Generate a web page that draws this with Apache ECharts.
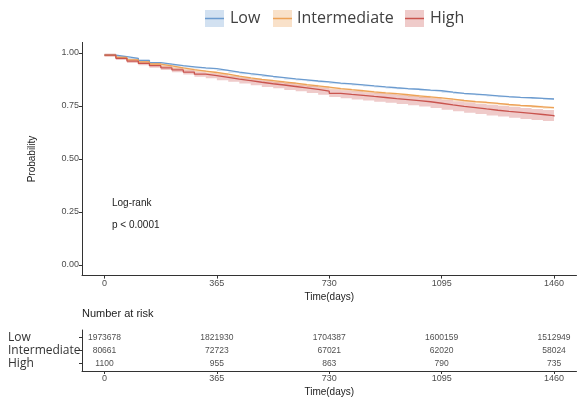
<!DOCTYPE html>
<html>
<head>
<meta charset="utf-8">
<script src="https://cdn.jsdelivr.net/npm/echarts@6/dist/echarts.min.js"></script>
<style>
html,body{margin:0;padding:0;background:#fff;}
#main{width:586px;height:398px;}
</style>
</head>
<body>
<div id="main"></div>
<script>
// survival curves
var times = [0,37,73,110,146,183,219,256,292,329,365,402,438,475,511,548,584,621,657,694,730,767,803,840,876,913,949,986,1022,1059,1095,1132,1168,1205,1241,1278,1314,1351,1387,1424,1460];

var lowSurv = [0.990,0.983,0.975,0.965,0.955,0.948,0.940,0.935,0.930,0.926,0.918,0.910,0.903,0.897,0.890,0.884,0.878,0.873,0.868,0.864,0.858,0.854,0.850,0.845,0.840,0.836,0.832,0.829,0.825,0.822,0.815,0.810,0.806,0.802,0.798,0.794,0.791,0.789,0.786,0.783,0.780];
var lowLo   = [0.987,0.980,0.972,0.962,0.952,0.945,0.937,0.932,0.927,0.923,0.915,0.907,0.900,0.894,0.887,0.881,0.875,0.870,0.865,0.861,0.855,0.851,0.847,0.842,0.837,0.833,0.829,0.826,0.822,0.819,0.812,0.807,0.803,0.799,0.795,0.791,0.788,0.786,0.783,0.780,0.777];
var lowHi   = [0.993,0.986,0.978,0.968,0.958,0.951,0.943,0.938,0.933,0.929,0.921,0.913,0.906,0.900,0.893,0.887,0.881,0.876,0.871,0.867,0.861,0.857,0.853,0.848,0.843,0.839,0.835,0.832,0.828,0.825,0.818,0.813,0.809,0.805,0.801,0.797,0.794,0.792,0.789,0.786,0.783];

var intSurv = [0.990,0.979,0.968,0.958,0.948,0.939,0.930,0.922,0.915,0.908,0.900,0.891,0.883,0.876,0.870,0.864,0.858,0.851,0.845,0.839,0.832,0.827,0.822,0.817,0.812,0.808,0.803,0.798,0.793,0.788,0.782,0.776,0.771,0.767,0.762,0.757,0.753,0.750,0.746,0.742,0.739];
var intLo   = [0.985,0.974,0.963,0.953,0.943,0.934,0.925,0.917,0.910,0.903,0.895,0.886,0.878,0.871,0.865,0.859,0.853,0.846,0.840,0.834,0.827,0.822,0.817,0.812,0.807,0.803,0.798,0.793,0.788,0.783,0.777,0.771,0.766,0.762,0.757,0.752,0.748,0.745,0.741,0.737,0.734];
var intHi   = [0.995,0.984,0.973,0.963,0.953,0.944,0.935,0.927,0.920,0.913,0.905,0.896,0.888,0.881,0.875,0.869,0.863,0.856,0.850,0.844,0.837,0.832,0.827,0.822,0.817,0.813,0.808,0.803,0.798,0.793,0.787,0.781,0.776,0.772,0.767,0.762,0.758,0.755,0.751,0.747,0.744];

var highSurv = [0.990,0.975,0.962,0.951,0.940,0.930,0.920,0.910,0.900,0.893,0.885,0.877,0.870,0.862,0.855,0.849,0.842,0.835,0.828,0.820,0.810,0.805,0.800,0.795,0.790,0.785,0.780,0.775,0.770,0.763,0.755,0.748,0.742,0.736,0.730,0.725,0.720,0.715,0.710,0.705,0.700];
var highLo   = [0.982,0.967,0.953,0.942,0.930,0.920,0.909,0.899,0.888,0.881,0.872,0.864,0.856,0.848,0.840,0.834,0.826,0.819,0.811,0.803,0.792,0.787,0.781,0.776,0.770,0.765,0.759,0.754,0.748,0.741,0.732,0.725,0.718,0.712,0.705,0.700,0.695,0.689,0.684,0.679,0.674];
var highHi   = [0.998,0.983,0.971,0.960,0.950,0.940,0.931,0.921,0.912,0.905,0.898,0.890,0.884,0.876,0.870,0.864,0.858,0.851,0.845,0.837,0.828,0.823,0.819,0.814,0.810,0.805,0.801,0.796,0.792,0.785,0.778,0.771,0.766,0.760,0.755,0.750,0.745,0.741,0.736,0.731,0.726];

// number at risk table
var groups = ['Low','Intermediate','High'];
var riskTimes = [0,365,730,1095,1460];
var riskLow = [1973678,1821930,1704387,1600159,1512949];
var riskInt = [80661,72723,67021,62020,58024];
var riskHigh = [1100,955,863,790,735];

var xTicks = [0,365,730,1095,1460];
var yTicks = [0,0.25,0.5,0.75,1];

var lineCol = ['#6b9bcf','#eda256','#c9544e'];
var bandCol = ['rgba(107,155,207,0.30)','rgba(237,162,86,0.32)','rgba(201,84,78,0.30)'];

function pairs(xs, ys){
	var arr=[];
	for(var i=0;i<xs.length;++i){ arr.push([xs[i], ys[i]]); }
	return arr;
}

function bandSeries(lo, hi, color, z){
	return {
		type:'custom',
		xAxisIndex:0, yAxisIndex:0,
		z:z,
		silent:true,
		data:[[0,0]],
		encode:{x:0, y:1},
		renderItem:function(params, api){
			var pts=[];
			for(var i=0;i<times.length;++i){
				pts.push(api.coord([times[i], hi[i]]));
				if(i<times.length-1) pts.push(api.coord([times[i+1], hi[i]]));
			}
			for(var j=times.length-1;j>=0;--j){
				if(j<times.length-1) pts.push(api.coord([times[j+1], lo[j]]));
				pts.push(api.coord([times[j], lo[j]]));
			}
			return {type:'polygon', shape:{points:pts}, style:{fill:color}};
		}
	};
}

function survLine(name, surv, color){
	return {
		name:name, type:'line', step:'end',
		xAxisIndex:0, yAxisIndex:0,
		data:pairs(times, surv),
		showSymbol:false, symbol:'none',
		lineStyle:{color:color, width:1.3},
		z:5, silent:true
	};
}

function riskData(row, vals){
	var arr=[];
	for(var i=0;i<riskTimes.length;++i){ arr.push([riskTimes[i], row, vals[i]]); }
	return arr;
}

var axisCol = '#333';
var labCol = '#4d4d4d';
var fontA = 'Liberation Sans, Arial, sans-serif';
var fontB = 'Open Sans, Noto Sans, sans-serif';

var legendItems = [];
var legendPos = [[205,'Low',230],[273,'Intermediate',297],[405,'High',430]];
for(var k=0;k<3;++k){
	legendItems.push({type:'rect', shape:{x:legendPos[k][0], y:10, width:19, height:17}, style:{fill:bandCol[k]}});
	legendItems.push({type:'line', shape:{x1:legendPos[k][0], y1:18.5, x2:legendPos[k][0]+19, y2:18.5}, style:{stroke:lineCol[k], lineWidth:1.5}});
	legendItems.push({type:'text', x:legendPos[k][2], y:18.5, style:{text:legendPos[k][1], fill:'#404040', font:'16px '+fontB, verticalAlign:'middle'}});
}

function xAxisFor(idx){
	return {
		type:'value', gridIndex:idx, min:-73, max:1533,
		name:'Time(days)', nameLocation:'middle', nameGap:16,
		nameTextStyle:{color:'#222', fontSize:10, fontFamily:fontA},
		axisLine:{show:true, onZero:false, lineStyle:{color:axisCol, width:1}},
		axisTick:{show:true, length:3, lineStyle:{color:axisCol}, customValues:xTicks},
		axisLabel:{color:labCol, fontSize:9, fontFamily:fontA, margin:3, customValues:xTicks,
			formatter:function(v){ return String(v); }},
		splitLine:{show:false}
	};
}

var myChart = echarts.init(document.getElementById('main'));
var option = {
	animation:false,
	backgroundColor:'#fff',
	grid:[
		{left:82, right:9.5, top:42.4, bottom:122.4},
		{left:82, right:9.5, top:330, bottom:24}
	],
	xAxis:[xAxisFor(0), xAxisFor(1)],
	yAxis:[
		{
			type:'value', gridIndex:0, min:-0.05, max:1.05,
			name:'Probability', nameLocation:'middle', nameGap:45,
			nameTextStyle:{color:'#222', fontSize:10, fontFamily:fontA},
			axisLine:{show:true, onZero:false, lineStyle:{color:axisCol, width:1}},
			axisTick:{show:true, length:3, lineStyle:{color:axisCol}, customValues:yTicks},
			axisLabel:{color:labCol, fontSize:9, fontFamily:fontA, margin:3, customValues:yTicks,
				formatter:function(v){ return v.toFixed(2); }},
			splitLine:{show:false}
		},
		{
			type:'value', gridIndex:1, min:0.4, max:3.6, inverse:true,
			axisLine:{show:true, onZero:false, lineStyle:{color:axisCol, width:1}},
			axisTick:{show:true, length:3, lineStyle:{color:axisCol}, customValues:[1,2,3]},
			axisLabel:{color:'#333', fontSize:12, fontFamily:fontB, margin:74, align:'left', customValues:[1,2,3],
				formatter:function(v){ return groups[Math.round(v)-1]; }},
			splitLine:{show:false}
		}
	],
	graphic:legendItems.concat([
		{type:'text', x:112, y:203, style:{text:'Log-rank', fill:'#222', font:'10px '+fontA, verticalAlign:'middle'}},
		{type:'text', x:112, y:225, style:{text:'p < 0.0001', fill:'#222', font:'10px '+fontA, verticalAlign:'middle'}},
		{type:'text', x:82, y:314, style:{text:'Number at risk', fill:'#222', font:'11px '+fontA, verticalAlign:'middle'}}
	]),
	series:[
		bandSeries(lowLo, lowHi, bandCol[0], 1),
		bandSeries(intLo, intHi, bandCol[1], 2),
		bandSeries(highLo, highHi, bandCol[2], 3),
		survLine('Low', lowSurv, lineCol[0]),
		survLine('Intermediate', intSurv, lineCol[1]),
		survLine('High', highSurv, lineCol[2]),
		{
			type:'scatter', xAxisIndex:1, yAxisIndex:1,
			symbolSize:1, itemStyle:{color:'rgba(0,0,0,0)'},
			data:riskData(1, riskLow).concat(riskData(2, riskInt), riskData(3, riskHigh)),
			label:{show:true, position:'inside', color:'#222', fontSize:8.5, fontFamily:fontA,
				formatter:function(p){ return p.value[2]; }},
			silent:true
		}
	]
};
myChart.setOption(option);
</script>
</body>
</html>
